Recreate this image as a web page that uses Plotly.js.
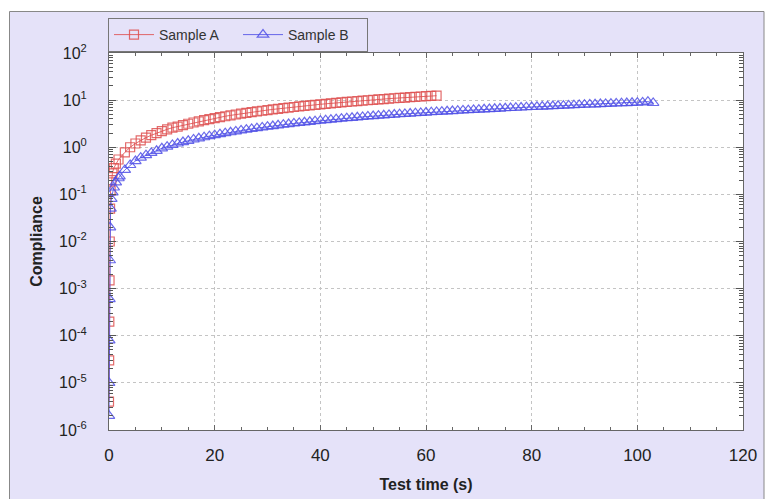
<!DOCTYPE html>
<html>
<head>
<meta charset="utf-8">
<script src="https://cdn.plot.ly/plotly-3.0.1.min.js"></script>
<style>
  html, body { margin: 0; padding: 0; background: #ffffff; }
  #chart { width: 770px; height: 499px; }
</style>
</head>
<body>
<div id="chart"></div>
<script>
// ---- Data ----
var timeA = [0, 0.03, 0.06, 0.1, 0.14, 0.2, 0.3, 0.45, 0.65, 0.9, 1.3, 1.8,
  3, 4, 5, 6, 7, 8, 9, 10, 11, 12, 13, 14, 15, 16, 17, 18, 19, 20,
  21, 22, 23, 24, 25, 26, 27, 28, 29, 30, 31, 32, 33, 34, 35, 36, 37, 38, 39, 40,
  41, 42, 43, 44, 45, 46, 47, 48, 49, 50, 51, 52, 53, 54, 55, 56, 57, 58, 59, 60, 61, 62];
var complianceA = [4e-6, 3e-5, 2e-4, 1.5e-3, 0.01, 0.05, 0.12, 0.2, 0.28, 0.36, 0.45, 0.55,
  0.78, 1.0, 1.2, 1.4, 1.6, 1.8, 2.0, 2.2, 2.4, 2.6, 2.75, 2.95, 3.15, 3.35, 3.55, 3.75, 3.95, 4.15,
  4.35, 4.55, 4.75, 4.95, 5.15, 5.35, 5.55, 5.75, 5.95, 6.15, 6.35, 6.55, 6.75, 6.95, 7.15, 7.35, 7.55, 7.75, 7.95, 8.15,
  8.35, 8.55, 8.75, 8.95, 9.15, 9.35, 9.55, 9.75, 9.95, 10.15, 10.35, 10.55, 10.75, 10.95, 11.15, 11.35, 11.55, 11.75, 11.95, 12.1, 12.3, 12.4];

var timeB = [0, 0.03, 0.06, 0.1, 0.15, 0.2, 0.3, 0.45, 0.65, 0.9, 1.3, 1.8,
  2, 3, 4, 5, 6, 7, 8, 9, 10, 11, 12, 13, 14, 15, 16, 17, 18, 19, 20,
  21, 22, 23, 24, 25, 26, 27, 28, 29, 30, 31, 32, 33, 34, 35, 36, 37, 38, 39, 40,
  41, 42, 43, 44, 45, 46, 47, 48, 49, 50, 51, 52, 53, 54, 55, 56, 57, 58, 59, 60,
  61, 62, 63, 64, 65, 66, 67, 68, 69, 70, 71, 72, 73, 74, 75, 76, 77, 78, 79, 80,
  81, 82, 83, 84, 85, 86, 87, 88, 89, 90, 91, 92, 93, 94, 95, 96, 97, 98, 99, 100,
  101, 102, 103];
var complianceB = [2e-6, 1e-5, 8e-5, 6e-4, 4e-3, 0.02, 0.05, 0.08, 0.11, 0.14, 0.18, 0.22,
  0.24, 0.33, 0.42, 0.51, 0.6, 0.68, 0.76, 0.84, 0.95, 1.03, 1.12, 1.2, 1.29, 1.37, 1.46, 1.55, 1.63, 1.72, 1.8,
  1.89, 1.99, 2.08, 2.17, 2.27, 2.36, 2.45, 2.54, 2.64, 2.73, 2.82, 2.92, 3.01, 3.1, 3.2, 3.29, 3.38, 3.47, 3.57, 3.66,
  3.75, 3.85, 3.94, 4.03, 4.13, 4.22, 4.31, 4.4, 4.5, 4.59, 4.68, 4.76, 4.85, 4.93, 5.02, 5.1, 5.19, 5.27, 5.36, 5.44,
  5.53, 5.61, 5.7, 5.78, 5.87, 5.95, 6.04, 6.12, 6.21, 6.29, 6.38, 6.46, 6.55, 6.63, 6.72, 6.8, 6.89, 6.97, 7.06, 7.14,
  7.23, 7.31, 7.4, 7.48, 7.57, 7.65, 7.74, 7.82, 7.91, 7.99, 8.08, 8.16, 8.25, 8.33, 8.42, 8.5, 8.59, 8.67, 8.76, 8.84,
  8.93, 9.3, 8.7];

var seriesNames = ['Sample A', 'Sample B'];
var yTickVals = [1e-6, 1e-5, 1e-4, 1e-3, 1e-2, 1e-1, 1, 10, 100];
var yTickText = ['10<sup>-6</sup>', '10<sup>-5</sup>', '10<sup>-4</sup>', '10<sup>-3</sup>',
  '10<sup>-2</sup>', '10<sup>-1</sup>', '10<sup>0</sup>', '10<sup>1</sup>', '10<sup>2</sup>'];
var xTickVals = [0, 20, 40, 60, 80, 100, 120];
var xTitle = 'Test time (s)';
var yTitle = 'Compliance';

// minor log tick positions (2..9 within each decade of the axis)
var yMinorVals = [];
for (var d = 0; d < yTickVals.length - 1; d++) {
  for (var m = 2; m <= 9; m++) yMinorVals.push(m * yTickVals[d]);
}

// ---- Styling ----
var lavender = '#e5e2f9';
var FONT = 'Liberation Sans, Arial, sans-serif';
var redC = 'rgba(222,80,80,0.85)';
var blueC = 'rgba(80,80,230,0.85)';

var traces = [
  {
    x: timeA, y: complianceA, name: seriesNames[0], type: 'scatter', mode: 'lines+markers',
    line: { color: redC, width: 1 },
    marker: { symbol: 'square-open', size: 9, color: redC, line: { width: 1.2, color: redC } }
  },
  {
    x: timeB, y: complianceB, name: seriesNames[1], type: 'scatter', mode: 'lines+markers',
    line: { color: blueC, width: 1 },
    marker: { symbol: 'triangle-up-open', size: 10, color: blueC, line: { width: 1.2, color: blueC } }
  }
];

var L = 109, R = 743, T = 53, B = 430, W = 770, H = 499;
var pw = R - L, ph = B - T;
function px2x(p) { return (p - L) / pw; }
function py2y(p) { return (B - p) / ph; }

var layout = {
  width: W, height: H,
  margin: { l: L, r: W - R, t: T, b: H - B, pad: 0 },
  paper_bgcolor: 'rgba(0,0,0,0)',
  plot_bgcolor: 'rgba(0,0,0,0)',
  font: { family: FONT, color: '#222', size: 16 },
  showlegend: true,
  legend: {
    orientation: 'h', x: px2x(108), xanchor: 'left', y: py2y(18), yanchor: 'top',
    bgcolor: lavender, bordercolor: '#777', borderwidth: 1,
    font: { family: FONT, size: 14, color: '#333' },
    itemwidth: 40, entrywidth: 74, tracegroupgap: 0
  },
  xaxis: {
    range: [0, 120], tickmode: 'array', tickvals: xTickVals,
    ticks: 'inside', ticklen: 5, tickcolor: '#666', tickwidth: 1,
    showline: true, linecolor: '#666', linewidth: 1, mirror: 'allticks',
    showgrid: true, gridcolor: '#c4c4c4', griddash: 'dot', gridwidth: 1,
    zeroline: false,
    tickfont: { family: FONT, size: 17, color: '#222' },
    ticklabelstandoff: 10,
    minor: { dtick: 5, tick0: 0, ticks: 'inside', ticklen: 3, tickcolor: '#666', showgrid: false },
    title: { text: '<b>' + xTitle + '</b>', font: { family: FONT, size: 16, color: '#222' }, standoff: 14 }
  },
  yaxis: {
    type: 'log', range: [-6, 2], tickmode: 'array', tickvals: yTickVals, ticktext: yTickText,
    ticks: 'inside', ticklen: 7, tickcolor: '#555', tickwidth: 1,
    showline: true, linecolor: '#666', linewidth: 1, mirror: 'allticks',
    showgrid: true, gridcolor: '#c4c4c4', griddash: 'dot', gridwidth: 1,
    zeroline: false,
    tickfont: { family: FONT, size: 16, color: '#222' },
    ticklabelstandoff: 18,
    minor: { tickmode: 'array', tickvals: yMinorVals, ticks: 'inside', ticklen: 4, tickcolor: '#555', showgrid: false },
    title: { text: '<b>' + yTitle + '</b>', font: { family: FONT, size: 16, color: '#222' }, standoff: 12 }
  },
  shapes: [
    { type: 'rect', xref: 'paper', yref: 'paper', layer: 'below',
      x0: px2x(9.5), x1: px2x(764), y0: py2y(505), y1: py2y(11.5),
      fillcolor: lavender, line: { color: '#888', width: 1 } },
    { type: 'rect', xref: 'paper', yref: 'paper', layer: 'below',
      x0: 0, x1: 1, y0: 0, y1: 1, fillcolor: '#ffffff', line: { width: 0 } }
  ]
};

Plotly.newPlot('chart', traces, layout, { staticPlot: true, displayModeBar: false });
</script>
</body>
</html>
